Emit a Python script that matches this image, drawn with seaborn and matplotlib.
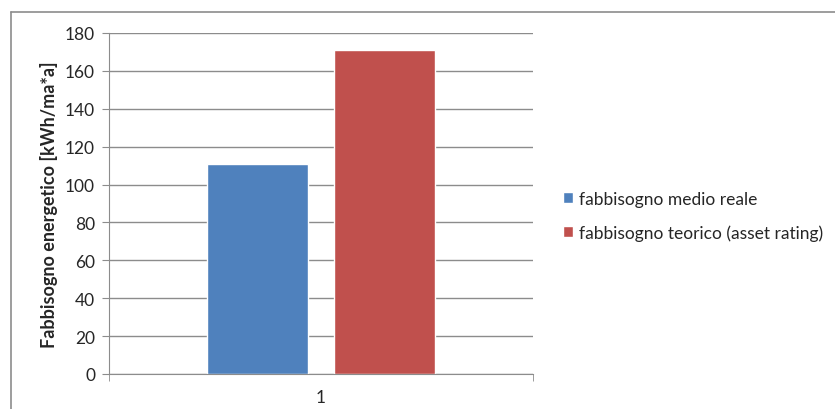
import pandas as pd
import matplotlib.pyplot as plt
import seaborn as sns
from matplotlib.lines import Line2D
from matplotlib.patches import Patch

# data
categories = ["1", "1"]
series = ["fabbisogno medio reale", "fabbisogno teorico (asset rating)"]
values = [111, 171]
colors = ["#4F81BD", "#C0504D"]

df = pd.DataFrame({"cat": categories, "serie": series, "valore": values})

sns.set_style("white")
plt.rcParams["font.family"] = ["Lato", "DejaVu Sans"]

fig = plt.figure(figsize=(8.35, 4.1), dpi=100)
ax = fig.add_axes([109 / 835, 1 - 375 / 410, (533 - 109) / 835, (375 - 34) / 410])

sns.barplot(data=df, x="cat", y="valore", hue="serie", palette=colors,
            width=0.6, gap=0.2, ax=ax, legend=False, saturation=1)

ax.set_xlim(-0.5, 0.5)
ax.set_ylim(0, 180)
ax.set_yticks(range(0, 181, 20))
ax.yaxis.grid(True, color="#8c8c8c", linewidth=1)
ax.set_axisbelow(True)
for s in ["top", "right"]:
    ax.spines[s].set_visible(False)
ax.spines["left"].set_color("#8c8c8c")
ax.spines["bottom"].set_color("#8c8c8c")
ax.tick_params(axis="y", left=True, length=5, color="#8c8c8c", labelsize=12.5,
               labelcolor="#262626", pad=5)
ax.tick_params(axis="x", bottom=False, labelsize=12.5, labelcolor="#262626", pad=7)
# excel-style category boundary ticks
ax.set_xticks([-0.5, 0.5], minor=True)
ax.tick_params(axis="x", which="minor", bottom=True, length=5, color="#8c8c8c")

ax.set_xlabel("")
ax.set_ylabel("Fabbisogno energetico [kWh/ma*a]", fontsize=13, fontweight="bold",
              color="#262626", labelpad=5)

handles = [Patch(facecolor=c, label=s) for c, s in zip(colors, series)]
fig.legend(handles=handles, loc="center left", bbox_to_anchor=(563 / 835, 1 - 217 / 410),
           frameon=False, fontsize=12.5, handlelength=0.6, handleheight=0.6,
           handletextpad=0.35, labelspacing=1.0, labelcolor="#262626",
           borderpad=0, borderaxespad=0)

# chart border (top and left visible)
fig.add_artist(Line2D([11 / 835, 11 / 835], [0, 1 - 13 / 410], color="#8c8c8c", linewidth=1.2))
fig.add_artist(Line2D([11 / 835, 1], [1 - 13 / 410, 1 - 13 / 410], color="#8c8c8c", linewidth=1.2))

fig.savefig("out.png", dpi=100)
